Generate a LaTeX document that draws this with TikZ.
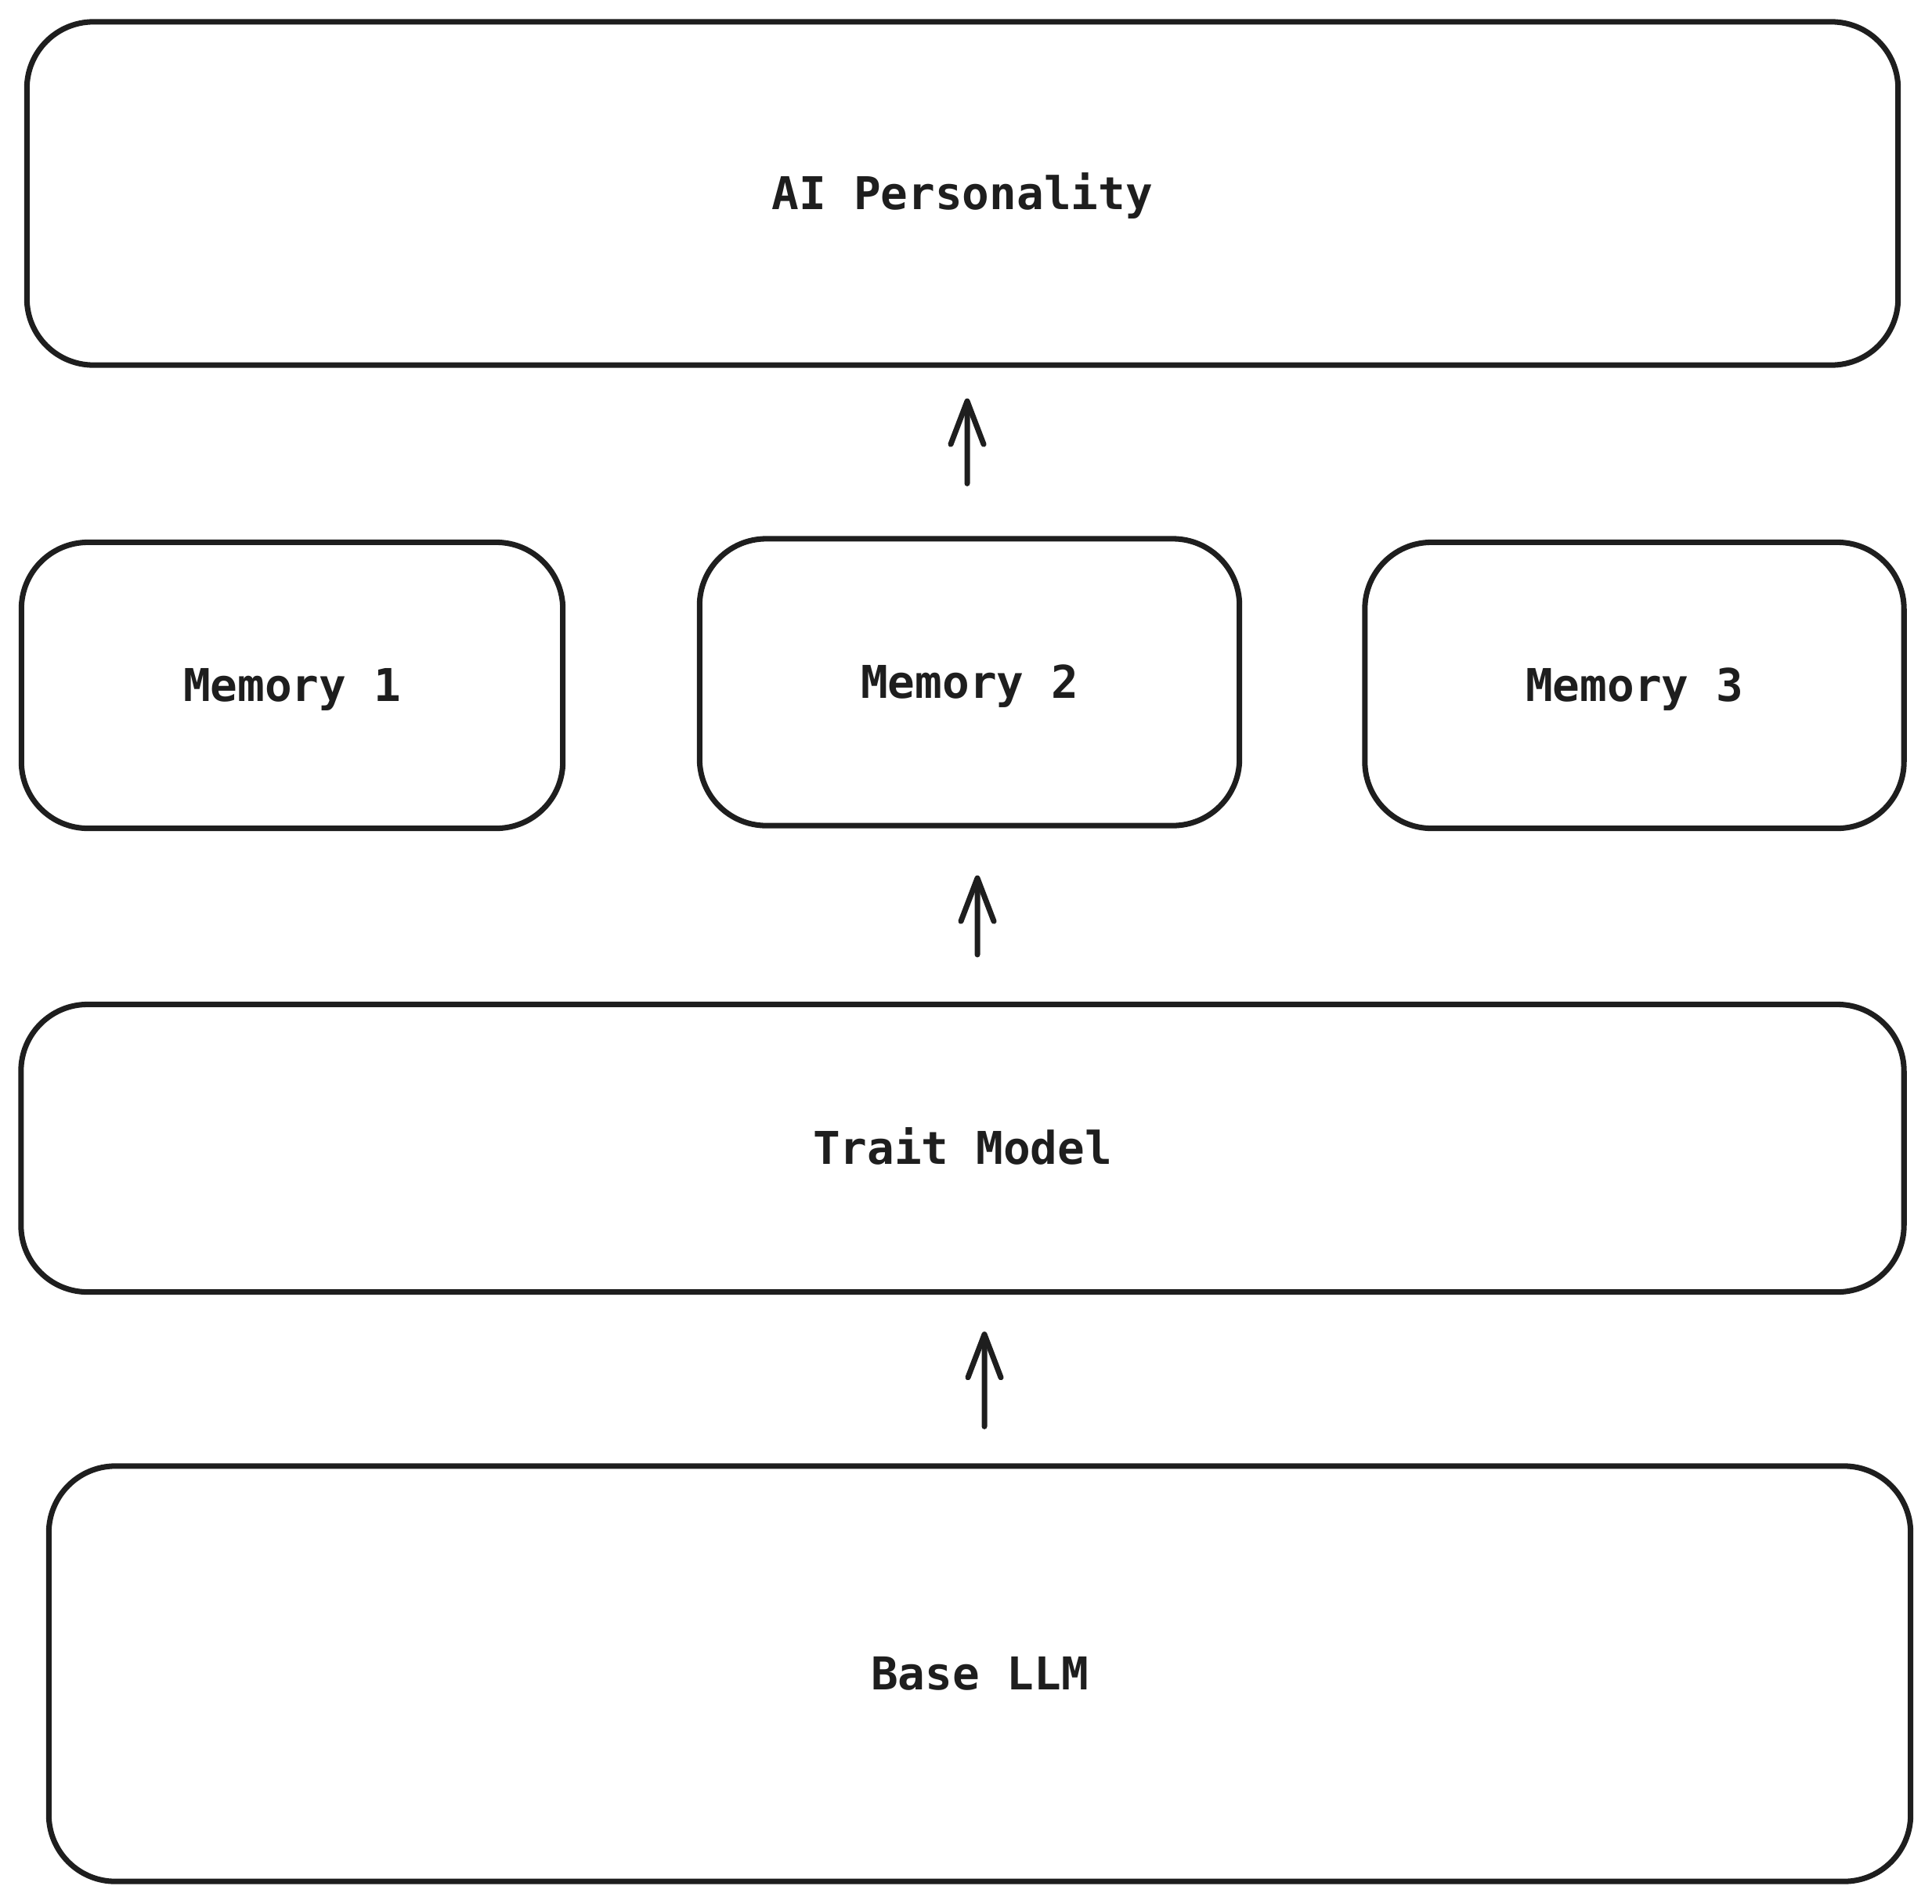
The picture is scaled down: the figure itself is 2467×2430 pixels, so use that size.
\documentclass[tikz,border=0pt]{standalone}
\usepackage{fontspec}
\setmonofont{DejaVu Sans Mono}
\usetikzlibrary{arrows.meta}
\definecolor{ink}{HTML}{1E1E1E}
\tikzset{
  box/.style={draw=ink, line width=2pt, rounded corners=0.85cm, inner sep=0pt,
    font=\ttfamily\bfseries\fontsize{16.4}{19}\selectfont, text=ink,
    text height=11.9pt, text depth=0pt},
  arr/.style={draw=ink, line width=2pt, line cap=round,
    -{Straight Barb[length=0.55cm, width=0.42cm, line cap=round, line join=round]}}
}
\begin{document}
\begin{tikzpicture}[x=0.01cm, y=-0.01cm]
\useasboundingbox (0,0) rectangle (2467,2430);
\node[box, minimum width=23.88cm, minimum height=4.38cm] (ai) at (1229,247) {AI Personality};
\node[box, minimum width=6.91cm, minimum height=3.65cm] (m1) at (373,875) {Memory 1};
\node[box, minimum width=6.89cm, minimum height=3.66cm] (m2) at (1238,871) {Memory 2};
\node[box, minimum width=6.88cm, minimum height=3.65cm] (m3) at (2087,875) {Memory 3};
\node[box, minimum width=24.03cm, minimum height=3.67cm] (trait) at (1229,1466) {Trait Model};
\node[box, minimum width=23.76cm, minimum height=5.30cm] (base) at (1251,2137) {Base LLM};
\draw[arr, shorten <=0.67cm, shorten >=0.39cm] ([xshift=-0.03cm]m2.north) -- ([xshift=0.06cm]ai.south);
\draw[arr, shorten <=0.60cm, shorten >=0.60cm] ([xshift=0.19cm]trait.north) -- ([xshift=0.10cm]m2.south);
\draw[arr, shorten <=0.47cm, shorten >=0.47cm] ([xshift=0.06cm]base.north) -- ([xshift=0.28cm]trait.south);
\end{tikzpicture}
\end{document}
